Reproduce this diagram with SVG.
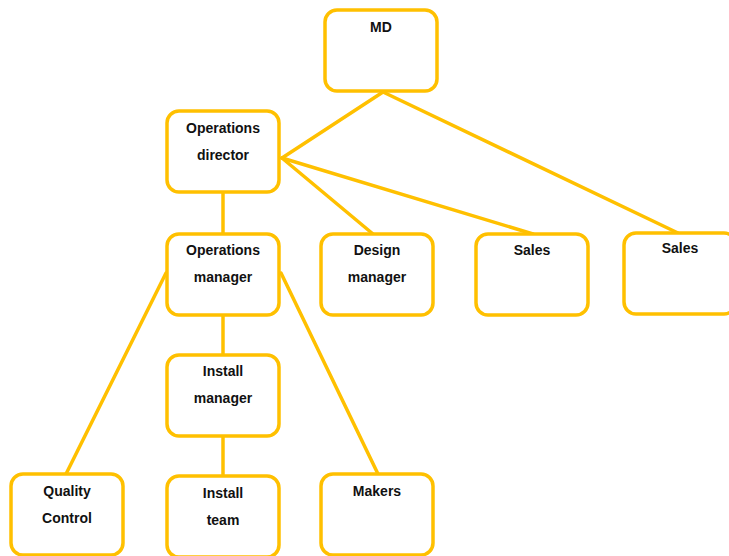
<svg xmlns="http://www.w3.org/2000/svg" width="729" height="556" viewBox="0 0 729 556">
<style>
.box{fill:#fff;stroke:#FFC000;stroke-width:3.5}
.ln{stroke:#FFC000;stroke-width:3.5;fill:none;stroke-linecap:round}
text{font-family:"Liberation Sans",Arial,sans-serif;font-weight:bold;font-size:14px;fill:#111;text-anchor:middle}
</style>
<rect width="729" height="556" fill="#fff"/>
<g id="connectors">
<line class="ln" x1="383" y1="92" x2="282" y2="158"/>
<line class="ln" x1="383" y1="92" x2="678" y2="233"/>
<line class="ln" x1="282" y1="158" x2="373" y2="234"/>
<line class="ln" x1="282" y1="158" x2="533" y2="234"/>
<line class="ln" x1="223" y1="192" x2="223" y2="234"/>
<line class="ln" x1="166" y1="273" x2="66" y2="474"/>
<line class="ln" x1="281" y1="273" x2="378" y2="474"/>
<line class="ln" x1="223" y1="315" x2="223" y2="355"/>
<line class="ln" x1="223" y1="436" x2="223" y2="476"/>
</g>
<g id="md"><rect class="box" x="325" y="10" width="112" height="81" rx="12"/><text x="381" y="32">MD</text></g>
<g id="ops-director"><rect class="box" x="167" y="111" width="112" height="81" rx="12"/><text x="223" y="133">Operations</text><text x="223" y="160">director</text></g>
<g id="ops-manager"><rect class="box" x="167" y="234" width="112" height="81" rx="12"/><text x="223" y="255">Operations</text><text x="223" y="282">manager</text></g>
<g id="design-manager"><rect class="box" x="321" y="234" width="112" height="81" rx="12"/><text x="377" y="255">Design</text><text x="377" y="282">manager</text></g>
<g id="sales1"><rect class="box" x="476" y="234" width="112" height="81" rx="12"/><text x="532" y="255">Sales</text></g>
<g id="sales2"><rect class="box" x="624" y="233" width="112" height="81" rx="12"/><text x="680" y="253">Sales</text></g>
<g id="install-manager"><rect class="box" x="167" y="355" width="112" height="81" rx="12"/><text x="223" y="376">Install</text><text x="223" y="403">manager</text></g>
<g id="quality-control"><rect class="box" x="11" y="474" width="112" height="81" rx="12"/><text x="67" y="496">Quality</text><text x="67" y="523">Control</text></g>
<g id="install-team"><rect class="box" x="167" y="476" width="112" height="81" rx="12"/><text x="223" y="498">Install</text><text x="223" y="525">team</text></g>
<g id="makers"><rect class="box" x="321" y="474" width="112" height="81" rx="12"/><text x="377" y="496">Makers</text></g>
</svg>
